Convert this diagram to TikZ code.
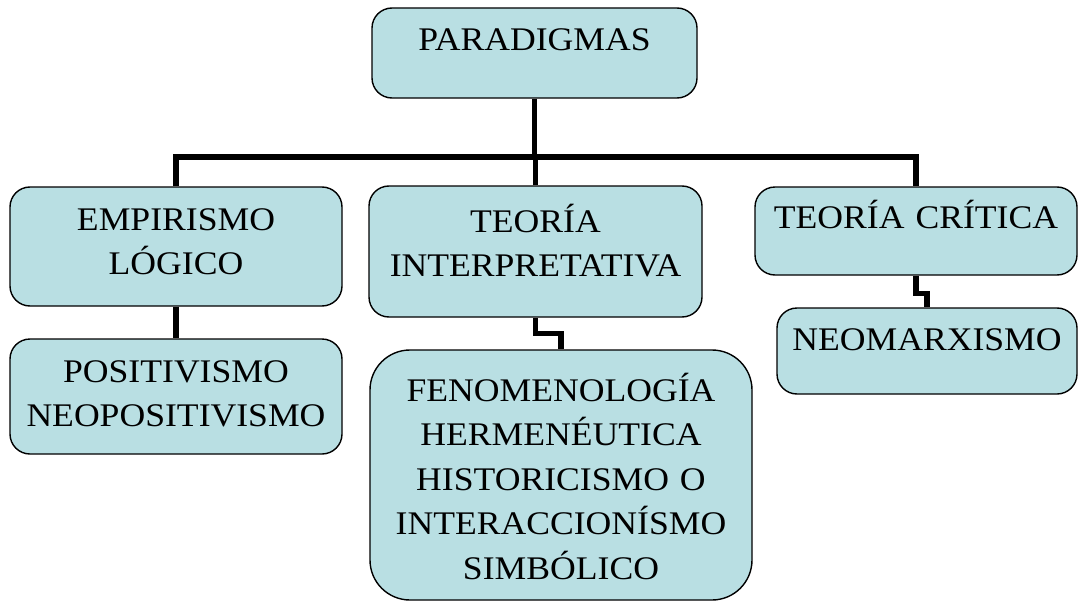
\documentclass[tikz,border=0pt]{standalone}
\usepackage{fontspec}
\setmainfont[FakeStretch=1.08]{Liberation Serif}
\definecolor{cajafondo}{RGB}{185,223,227}
\tikzset{
  caja/.style={draw=black, line width=1.4pt, fill=cajafondo, rounded corners=20pt,
    align=center, inner sep=0pt, font=\fontsize{33}{44.5}\selectfont},
  enlace/.style={line width=5.5pt},
}

\begin{document}
\begin{tikzpicture}[x=1pt,y=-1pt]
   \useasboundingbox (0,0) rectangle (1079,602);
   \node[caja, text width=325pt, text height=43pt, text depth=47pt] (PAR) at (534.5,53) {PARADIGMAS};
   \node[caja, text width=332pt, text height=43pt, text depth=76pt] (EMP) at (176,246.5) {EMPIRISMO\\LÓGICO};
   \node[caja, text width=332pt, text height=43pt, text depth=72pt] (POS) at (176,396.5) {POSITIVISMO\\NEOPOSITIVISMO};
   \node[caja, text width=333pt, text height=46pt, text depth=85pt] (INT) at (535.5,251.5) {TEORÍA\\INTERPRETATIVA};
   \node[caja, rounded corners=40pt, text width=382pt, text height=51pt, text depth=199pt] (FEN) at (561,475)
      {FENOMENOLOGÍA\\HERMENÉUTICA\\HISTORICISMO O\\INTERACCIONÍSMO\\SIMBÓLICO};
   \node[caja, text width=322pt, text height=41pt, text depth=47pt] (CRI) at (916,231) {TEORÍA CRÍTICA};
   \node[caja, text width=300pt, text height=42pt, text depth=44pt] (NEO) at (927,351) {NEOMARXISMO};
   \coordinate (bar) at (536,157);
   \draw[enlace] (PAR.south) -- (PAR.south |- bar);
   \draw[enlace] (EMP.north) |- (bar) -| (CRI.north);
   \draw[enlace] (INT.north) -- (INT.north |- bar);
   \draw[enlace] (EMP.south) -- (POS.north);
   \draw[enlace] (INT.south) -- ++(0,16) -| (FEN.north);
   \draw[enlace] (CRI.south) -- ++(0,18) -| (NEO.north);
\end{tikzpicture}
\end{document}
